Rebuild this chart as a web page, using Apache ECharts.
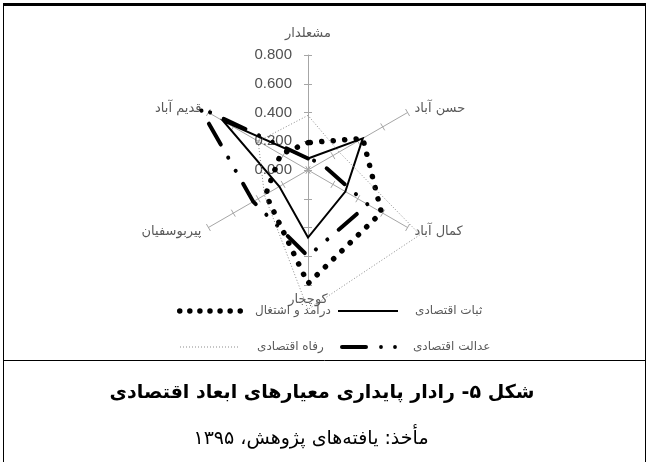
<!DOCTYPE html>
<html><head><meta charset="utf-8">
<script src="https://cdn.jsdelivr.net/npm/echarts@6/dist/echarts.min.js"></script>
<style>html,body{margin:0;padding:0;background:#fff}#c{width:649px;height:462px}</style>
</head><body><div id="c"></div>
<script>
// Indicators in ECharts (counter-clockwise) order starting at the top
const indicatorNames = ['مشعلدار', 'قدیم آباد', 'پیربوسفیان', 'کوچجار', 'کمال آباد', 'حسن آباد'];
const seriesNames = ['ثبات اقتصادی', 'درآمد و اشتغال', 'عدالت اقتصادی', 'رفاه اقتصادی'];
const sabat   = [0.08, 0.68, 0.23, 0.47, 0.30, 0.44];
const daramad = [0.19, 0.22, 0.34, 0.79, 0.59, 0.44];
const edalat  = [0.08, 0.87, 0.44, 0.60, 0.48, 0.10];
const refah   = [0.38, 0.40, 0.35, 0.97, 0.90, 0.25];
const tickLabels = ['0.000', '0.200', '0.400', '0.600', '0.800'];
const axisMin = 0, axisMax = 0.8, axisStep = 0.2;
const captionTitle = 'شکل ۵- رادار پایداری معیارهای ابعاد اقتصادی';
const captionSource = 'مأخذ: یافته‌های پژوهش، ۱۳۹۵';

const values = [sabat, daramad, edalat, refah];
const styles = [
  {color: '#000', width: 2, type: 'solid', cap: 'butt', join: 'miter'},
  {color: '#000', width: 5.5, type: [0.1, 11.4], cap: 'round', join: 'round'},
  {color: '#000', width: 4, type: [24, 15, 0.1, 15, 0.1, 15], cap: 'round', join: 'round'},
  {color: '#8c8c8c', width: 1, type: [1, 2], cap: 'butt', join: 'miter'}
];

// legend sample icons (drawing only)
function circ(cx, cy, r) {
  return 'M' + (cx - r) + ',' + cy + 'a' + r + ',' + r + ' 0 1,0 ' + (2 * r) + ',0a' + r + ',' + r + ' 0 1,0 ' + (-2 * r) + ',0Z';
}
function dotsPath() {
  let p = '';
  for (let k = 0; k < 7; k++) p += circ(2.75 + k * 10.08, 2.75, 2.75);
  return 'path://' + p;
}
function dashDotPath() {
  return 'path://M2,0H26A2,2 0 0,1 26,4H2A2,2 0 0,1 2,0Z' + circ(41, 2, 1.9) + circ(55, 2, 1.9);
}
function finePath() {
  let p = '';
  for (let k = 0; k < 20; k++) p += 'M' + (3 * k) + ',0h1v1h-1Z';
  return 'path://' + p;
}
const legendCfg = [
  {icon: 'path://M0,0H60V2H0Z', left: 338, top: 305, w: 60, h: 2, pad: 12},
  {icon: dotsPath(), left: 177, top: 305, w: 66, h: 5.5, pad: 7},
  {icon: dashDotPath(), left: 340, top: 341, w: 57, h: 4, pad: 11},
  {icon: finePath(), left: 180, top: 341, w: 58, h: 1, pad: 14}
];

const CX = 308, CY = 170, R = 115;
const nameFont = 'DejaVu Sans';

const radarIndicators = indicatorNames.map(n => ({name: n, min: axisMin, max: axisMax}));

const option = {
  animation: false,
  backgroundColor: '#fff',
  grid: {left: CX, top: CY - R, width: 20, height: R, containLabel: false},
  xAxis: {type: 'value', show: false, min: 0, max: 1},
  yAxis: {
    type: 'value', min: axisMin, max: axisMax, interval: axisStep,
    axisLine: {show: false}, axisTick: {show: false}, splitLine: {show: false},
    axisLabel: {
      margin: 16, fontSize: 15, color: '#505050', fontFamily: 'Liberation Sans',
      formatter: v => tickLabels[Math.round((v - axisMin) / axisStep)]
    }
  },
  radar: [{
    center: [CX, CY], radius: R, startAngle: 90, splitNumber: 4, shape: 'polygon',
    indicator: radarIndicators,
    nameGap: 8,
    axisName: {
      color: '#595959', fontSize: 13, fontFamily: nameFont,
      formatter: (name) => name === indicatorNames[0] ? '{t|' + name + '}' : name,
      rich: {t: {color: '#595959', fontSize: 13, fontFamily: nameFont, padding: [0, 0, 7, 0]}}
    },
    axisLine: {show: true, lineStyle: {color: '#a6a6a6', width: 1}},
    axisTick: {show: true, length: 4, lineStyle: {color: '#a6a6a6', width: 1}},
    axisLabel: {show: false},
    splitLine: {show: false}, splitArea: {show: false}
  }, {
    center: [CX, CY], radius: R, startAngle: 90, splitNumber: 4, shape: 'polygon',
    indicator: radarIndicators,
    axisName: {show: false},
    axisLine: {show: false},
    axisTick: {show: true, length: -4, lineStyle: {color: '#a6a6a6', width: 1}},
    axisLabel: {show: false},
    splitLine: {show: false}, splitArea: {show: false}
  }],
  legend: seriesNames.map((n, i) => ({
    data: [n], orient: 'horizontal', left: legendCfg[i].left, top: legendCfg[i].top,
    padding: 0, itemWidth: legendCfg[i].w, itemHeight: legendCfg[i].h, selectedMode: false,
    icon: legendCfg[i].icon,
    itemStyle: {color: styles[i].color, borderWidth: 0},
    textStyle: {color: '#595959', fontSize: 12, fontFamily: nameFont, padding: [0, 0, 0, legendCfg[i].pad]}
  })),
  series: seriesNames.map((n, i) => ({
    type: 'radar', name: n, radarIndex: 0, symbol: 'none', silent: true, z: 3 + i,
    lineStyle: styles[i],
    data: [{name: n, value: values[i]}]
  })),
  graphic: [
    {type: 'rect', shape: {x: 3, y: 3, width: 643, height: 3}, style: {fill: '#000'}, silent: true},
    {type: 'line', shape: {x1: 3.5, y1: 4, x2: 3.5, y2: 462}, style: {stroke: '#000', lineWidth: 1}, silent: true},
    {type: 'line', shape: {x1: 645.5, y1: 4, x2: 645.5, y2: 462}, style: {stroke: '#000', lineWidth: 1}, silent: true},
    {type: 'line', shape: {x1: 3, y1: 360.5, x2: 646, y2: 360.5}, style: {stroke: '#000', lineWidth: 1}, silent: true},
    {type: 'text', x: 322, y: 393, silent: true,
      style: {text: captionTitle, fill: '#000', font: 'bold 19px "DejaVu Sans"', align: 'center', verticalAlign: 'middle'}},
    {type: 'text', x: 311, y: 439, silent: true,
      style: {text: captionSource, fill: '#000', font: '19px "DejaVu Sans"', align: 'center', verticalAlign: 'middle'}}
  ]
};

const chart = echarts.init(document.getElementById('c'), null, {renderer: 'canvas'});
chart.setOption(option);
</script>
</body></html>
